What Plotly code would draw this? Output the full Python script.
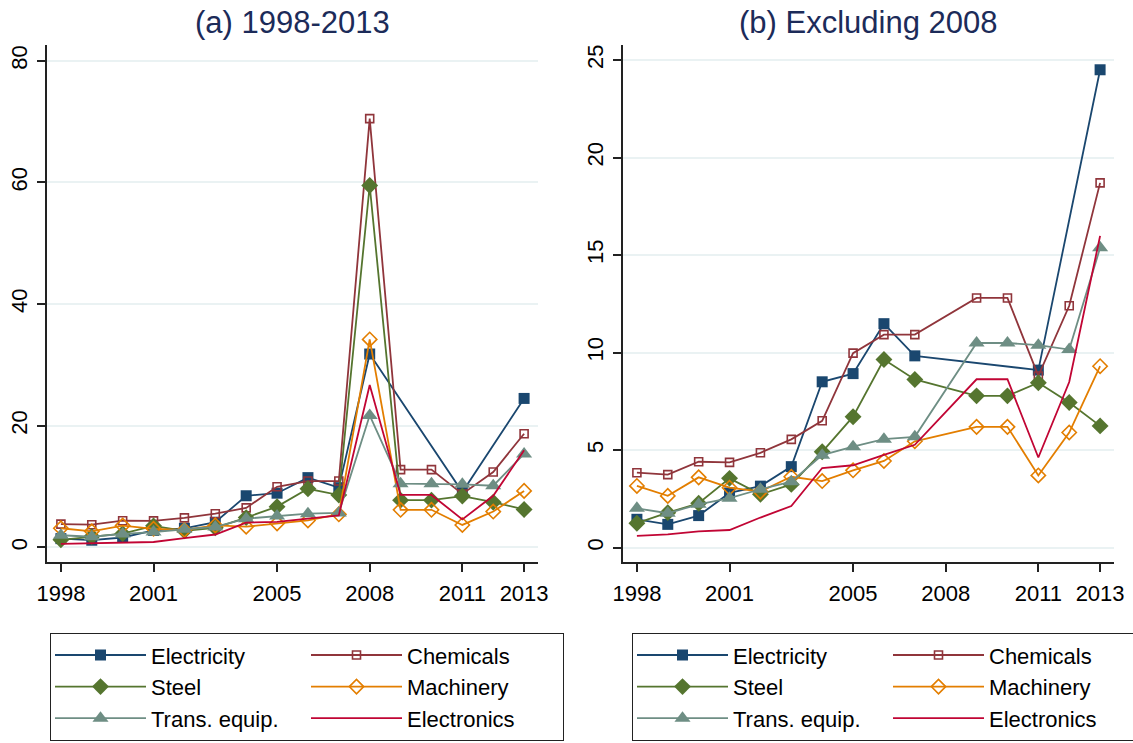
import plotly.graph_objects as go

years = list(range(1998, 2014))
series_names = ["Electricity", "Chemicals", "Steel", "Machinery", "Trans. equip.", "Electronics"]

electricity = [1.45, 1.19, 1.64, 2.8, 3.15, 4.15, 8.5, 8.92, 11.48, 9.83, 31.8, None, None, 9.1, None, 24.5]
chemicals = [3.84, 3.74, 4.4, 4.37, 4.86, 5.55, 6.5, 9.97, 10.92, 10.92, 70.5, 12.8, 12.8, 8.8, 12.4, 18.7]
steel = [1.25, 1.79, 2.27, 3.55, 2.73, 3.24, 4.91, 6.71, 9.64, 8.62, 59.5, 7.78, 7.78, 8.45, 7.44, 6.24]
machinery = [3.16, 2.65, 3.6, 3.07, 2.87, 3.63, 3.41, 3.96, 4.44, 5.45, 34.2, 6.19, 6.19, 3.7, 5.9, 9.3]
trans_equip = [2.01, 1.76, 2.22, 2.53, 2.99, 3.38, 4.74, 5.17, 5.56, 5.68, 21.7, 10.49, 10.49, 10.38, 10.15, 15.37]
electronics = [0.6, 0.68, 0.83, 0.9, 1.54, 2.13, 4.08, 4.22, 4.75, 5.27, 26.7, 8.63, 8.63, 4.62, 8.49, 15.98]

x_ticks = [1998, 2001, 2005, 2008, 2011, 2013]
y_ticks_a = [0, 20, 40, 60, 80]
y_ticks_b = [0, 5, 10, 15, 20, 25]
titles = ["(a) 1998-2013", "(b) Excluding 2008"]
excluded_year = 2008

values = [electricity, chemicals, steel, machinery, trans_equip, electronics]
colors = ["#1a476f", "#90353b", "#55752f", "#e37e00", "#6e8e84", "#c10534"]
legend_columns = ["c1", "c2", "c1", "c2", "c1", "c2"]
markers = [
    dict(symbol="square", size=11, line=dict(width=0)),
    dict(symbol="square-open", size=8, line=dict(width=1.6)),
    dict(symbol="diamond", size=13, line=dict(width=0)),
    dict(symbol="diamond-open", size=11, line=dict(width=1.6)),
    dict(symbol="triangle-up", size=14, line=dict(width=0)),
    None,
]

W, H = 1133, 743
FONT = "Arial, Liberation Sans, sans-serif"

fig = go.Figure()

for panel, (xa, ya, leg) in enumerate([("x", "y", "legend"), ("x2", "y2", "legend2")]):
    for name, vals, col, mk, grp in zip(series_names, values, colors, markers, legend_columns):
        if panel == 1:
            vals = [None if yr == excluded_year else v for yr, v in zip(years, vals)]
        tr = dict(
            x=years, y=vals, name=name, xaxis=xa, yaxis=ya, legend=leg,
            legendgroup=grp + str(panel),
            line=dict(color=col, width=1.8), connectgaps=True, cliponaxis=False,
        )
        if mk is None:
            tr["mode"] = "lines"
        else:
            tr["mode"] = "lines+markers"
            m = dict(mk)
            m["color"] = col
            m["line"] = dict(mk["line"], color=col)
            tr["marker"] = m
        fig.add_trace(go.Scatter(**tr))

y_bot, y_top = 1 - 562 / H, 1 - 45 / H
axis_common = dict(
    showline=True, linecolor="#222", linewidth=1.5, ticks="outside", ticklen=8,
    tickcolor="#222", tickwidth=1.5, zeroline=False,
    tickfont=dict(family=FONT, size=22, color="black"),
)
x_common = dict(axis_common, range=[1997.55, 2013.45], tickvals=x_ticks, showgrid=False,
                ticklabelstandoff=3)
y_common = dict(axis_common, tickangle=-90, showgrid=True, gridcolor="#eaf2f3", gridwidth=1.5,
                ticklabelstandoff=1)

fig.update_layout(
    width=W, height=H,
    margin=dict(l=0, r=0, t=0, b=0, autoexpand=False),
    paper_bgcolor="white", plot_bgcolor="white",
    xaxis=dict(x_common, domain=[47 / W, 538 / W], anchor="y"),
    xaxis2=dict(x_common, domain=[623 / W, 1114 / W], anchor="y2"),
    yaxis=dict(y_common, domain=[y_bot, y_top], anchor="x", range=[-2.39, 82.6], tickvals=y_ticks_a),
    yaxis2=dict(y_common, domain=[y_bot, y_top], anchor="x2", range=[-0.74, 25.77], tickvals=y_ticks_b),
    showlegend=True,
    font=dict(family=FONT, color="black"),
)

legend_common = dict(
    orientation="h", xanchor="left", yanchor="top", y=1 - 633 / H,
    bordercolor="#222", borderwidth=1.2, bgcolor="white",
    font=dict(family=FONT, size=22, color="black"),
    entrywidth=150, entrywidthmode="pixels", itemwidth=91,
    traceorder="grouped", tracegroupgap=0,
)
fig.update_layout(
    legend=dict(legend_common, x=50 / W),
    legend2=dict(legend_common, x=632 / W),
)

for i, t in enumerate(titles):
    cx = (47 + 538) / 2 / W if i == 0 else (623 + 1114) / 2 / W
    fig.add_annotation(
        text=t, x=cx, y=1 - 22 / H, xref="paper", yref="paper", showarrow=False,
        xanchor="center", yanchor="middle",
        font=dict(family=FONT, size=31, color="#1c2b59"),
    )

fig.write_html(
    "out.html",
    config={"displayModeBar": False},
    post_script="document.body.style.margin='0';document.body.style.overflow='hidden';",
)
